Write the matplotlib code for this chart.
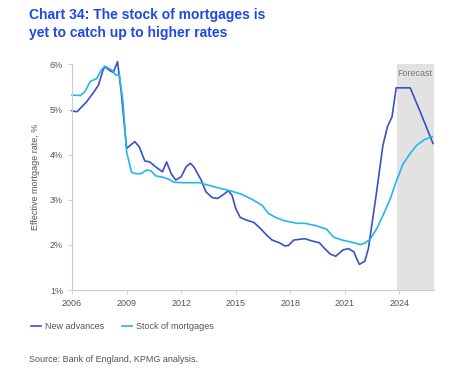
import numpy as np
import matplotlib.pyplot as plt

plt.rcParams['font.family'] = ['Liberation Sans', 'DejaVu Sans']

# New advances (year, effective rate %)
adv_year = [2006.0, 2006.27, 2006.8, 2007.27, 2007.45, 2007.7, 2007.8, 2008.05, 2008.27, 2008.5,
            2008.7, 2009.0, 2009.45, 2009.7, 2010.0, 2010.27, 2010.6, 2010.97, 2011.2, 2011.45,
            2011.7, 2012.0, 2012.27, 2012.5, 2012.7, 2013.1, 2013.36, 2013.7, 2014.0, 2014.3,
            2014.6, 2014.8, 2015.0, 2015.25, 2015.6, 2016.0, 2016.35, 2016.7, 2017.0, 2017.4,
            2017.7, 2017.9, 2018.2, 2018.8, 2019.2, 2019.6, 2019.9, 2020.2, 2020.5, 2020.9,
            2021.2, 2021.5, 2021.6, 2021.8, 2022.1, 2022.3, 2022.7, 2023.1, 2023.35, 2023.6,
            2023.83, 2024.6, 2025.15, 2025.6, 2025.85]
adv_rate = [4.97, 4.95, 5.17, 5.43, 5.54, 5.87, 5.95, 5.87, 5.82, 6.06,
            5.40, 4.14, 4.29, 4.17, 3.86, 3.84, 3.73, 3.62, 3.84, 3.58,
            3.44, 3.51, 3.73, 3.81, 3.73, 3.44, 3.18, 3.05, 3.03, 3.11,
            3.20, 3.10, 2.81, 2.61, 2.55, 2.50, 2.37, 2.22, 2.11, 2.05,
            1.98, 1.99, 2.11, 2.14, 2.09, 2.05, 1.92, 1.80, 1.75, 1.89,
            1.92, 1.85, 1.75, 1.57, 1.64, 1.92, 3.03, 4.21, 4.62, 4.84,
            5.48, 5.48, 4.95, 4.50, 4.25]

# Stock of mortgages
stock_year = [2006.0, 2006.45, 2006.7, 2007.0, 2007.36, 2007.6, 2007.8, 2008.2, 2008.4, 2008.6,
              2008.8, 2009.0, 2009.27, 2009.5, 2009.8, 2010.1, 2010.35, 2010.6, 2011.0, 2011.3,
              2011.6, 2012.0, 2013.0, 2013.36, 2013.9, 2014.4, 2014.8, 2015.35, 2015.9, 2016.45,
              2016.8, 2017.2, 2017.65, 2018.0, 2018.4, 2018.8, 2019.4, 2020.0, 2020.4, 2020.85,
              2021.4, 2021.85, 2022.1, 2022.4, 2022.77, 2023.13, 2023.5, 2023.86, 2024.2, 2024.6,
              2024.96, 2025.4, 2025.82]
stock_rate = [5.32, 5.31, 5.39, 5.62, 5.69, 5.87, 5.96, 5.87, 5.76, 5.78,
              5.17, 4.06, 3.61, 3.58, 3.58, 3.66, 3.64, 3.53, 3.50, 3.46,
              3.39, 3.38, 3.38, 3.34, 3.28, 3.23, 3.19, 3.12, 3.01, 2.88,
              2.70, 2.61, 2.54, 2.51, 2.48, 2.48, 2.43, 2.35, 2.17, 2.11,
              2.06, 2.01, 2.04, 2.13, 2.37, 2.68, 3.02, 3.44, 3.79, 4.03,
              4.21, 4.34, 4.40]

forecast_start = 2023.85
x_end = 2025.9
x_ticks = [2006, 2009, 2012, 2015, 2018, 2021, 2024]
y_ticks = [1, 2, 3, 4, 5, 6]

dark = '#3a50c6'
light = '#22b8e8'
grey = '#555555'

fig = plt.figure(figsize=(4.65, 3.72), dpi=100)
ax = fig.add_axes([0.155, 0.22, 0.778, 0.607])

ax.axvspan(forecast_start, x_end, color='#e2e2e2', lw=0, zorder=0)
ax.text((forecast_start + x_end) / 2, 5.8, 'Forecast', ha='center', va='center',
        fontsize=6.5, color='#777777')

ax.plot(adv_year, adv_rate, color=dark, lw=1.2, label='New advances', clip_on=False)
ax.plot(stock_year, stock_rate, color=light, lw=1.2, label='Stock of mortgages', clip_on=False)

ax.set_xlim(2006, x_end)
ax.set_ylim(1, 6)
ax.set_xticks(x_ticks)
ax.set_yticks(y_ticks)
ax.set_yticklabels([f'{v}%' for v in y_ticks])
ax.tick_params(labelsize=6.5, colors=grey, length=3, width=0.6, color='#cccccc')

for s in ['top', 'right']:
    ax.spines[s].set_visible(False)
for s in ['left', 'bottom']:
    ax.spines[s].set_color('#cccccc')
    ax.spines[s].set_linewidth(0.8)

ax.set_ylabel('Effective mortgage rate, %', fontsize=6.5, color=grey, labelpad=7)

fig.text(0.062, 0.978, 'Chart 34: The stock of mortgages is\nyet to catch up to higher rates',
         ha='left', va='top', fontsize=10, fontweight='bold', color='#1e49e2', linespacing=1.38)

leg = fig.legend(loc='lower left', bbox_to_anchor=(0.05, 0.088), ncol=2, frameon=False,
                 fontsize=6.5, handlelength=1.1, handletextpad=0.4, columnspacing=2.0)
for t in leg.get_texts():
    t.set_color(grey)

fig.text(0.062, 0.022, 'Source: Bank of England, KPMG analysis.', fontsize=6.5, color=grey,
         ha='left', va='bottom')

fig.savefig('out.png', dpi=100)
